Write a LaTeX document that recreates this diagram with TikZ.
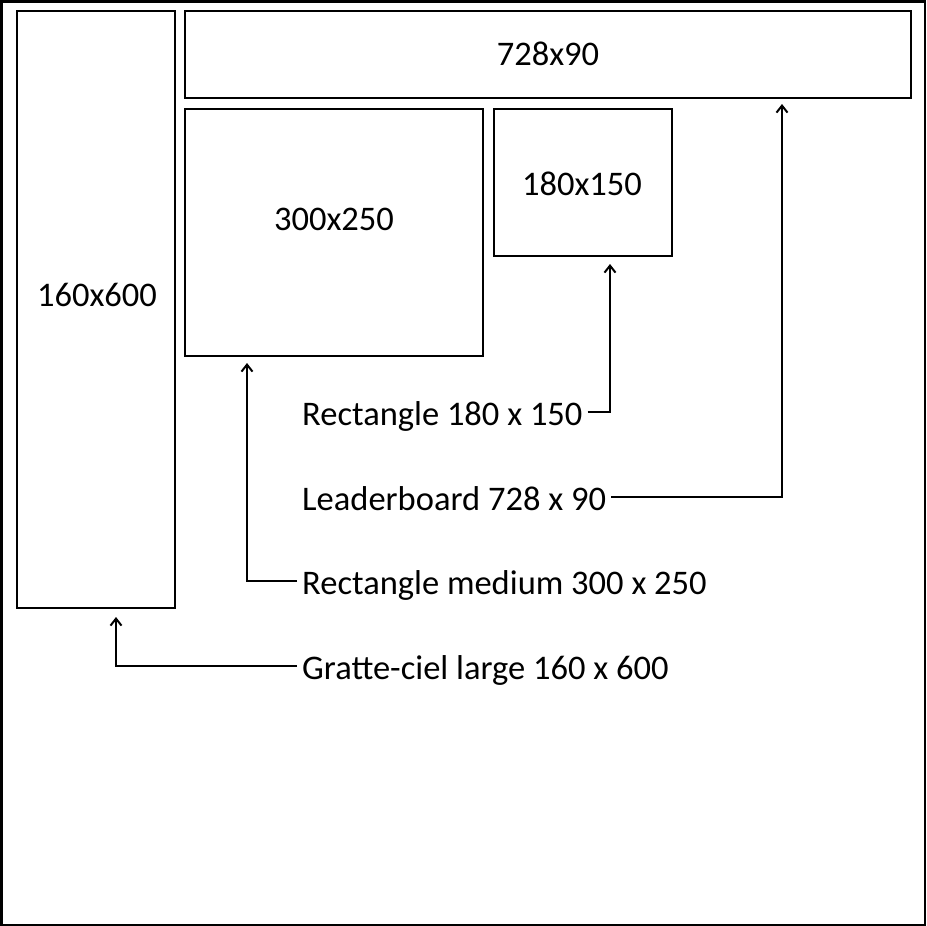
\documentclass[tikz,border=0pt]{standalone}
\usepackage{fontspec}
\setmainfont{Carlito}
\usetikzlibrary{arrows.meta}

\tikzset{
  adbox/.style 2 args={draw, line width=2pt, minimum width=#1pt, minimum height=#2pt, inner sep=0pt},
  adtext/.style={font=\fontsize{34.5}{40}\selectfont},
  note/.style={adtext, anchor=west, inner sep=5pt, text height=26pt, text depth=0pt},
  link/.style={line width=2pt, -{Straight Barb[length=7pt,width=11pt,line width=2pt]}}
}

\begin{document}
\begin{tikzpicture}[x=1pt,y=-1pt]
  \useasboundingbox (0,0) rectangle (926,926);
  \draw[line width=2.5pt, fill=white] (1.25,1.25) rectangle (924.75,924.75);

  % ad boxes
  \node[adbox={158}{597}] (sky) at (96,309.5) {};
  \node[adbox={726}{87}] (board) at (548,54.5) {};
  \node[adbox={298}{247}] (medium) at (334,232.5) {};
  \node[adbox={178}{147}] (small) at (583,182.5) {};

  \node[adtext] (sky-txt) at (97,295) {160x600};
  \node[adtext] (board-txt) at (548,54) {728x90};
  \node[adtext] (medium-txt) at (334,219) {300x250};
  \node[adtext] (small-txt) at (582,184) {180x150};

  % captions
  \node[note] (l-small) at (297,412) {Rectangle 180 x 150};
  \node[note] (l-board) at (297,497) {Leaderboard 728 x 90};
  \node[note] (l-medium) at (297,581) {Rectangle medium 300 x 250};
  \node[note] (l-sky) at (297,666) {Gratte-ciel large 160 x 600};

  % arrows
  \draw[link] (l-small.east) -| ([xshift=27pt,yshift=-7pt]small.south);
  \draw[link] (l-board.east) -| ([xshift=234pt,yshift=-5pt]board.south);
  \draw[link] (l-medium.west) -| ([xshift=-87pt,yshift=-6pt]medium.south);
  \draw[link] (l-sky.west) -| ([xshift=20pt,yshift=-8pt]sky.south);
\end{tikzpicture}
\end{document}
